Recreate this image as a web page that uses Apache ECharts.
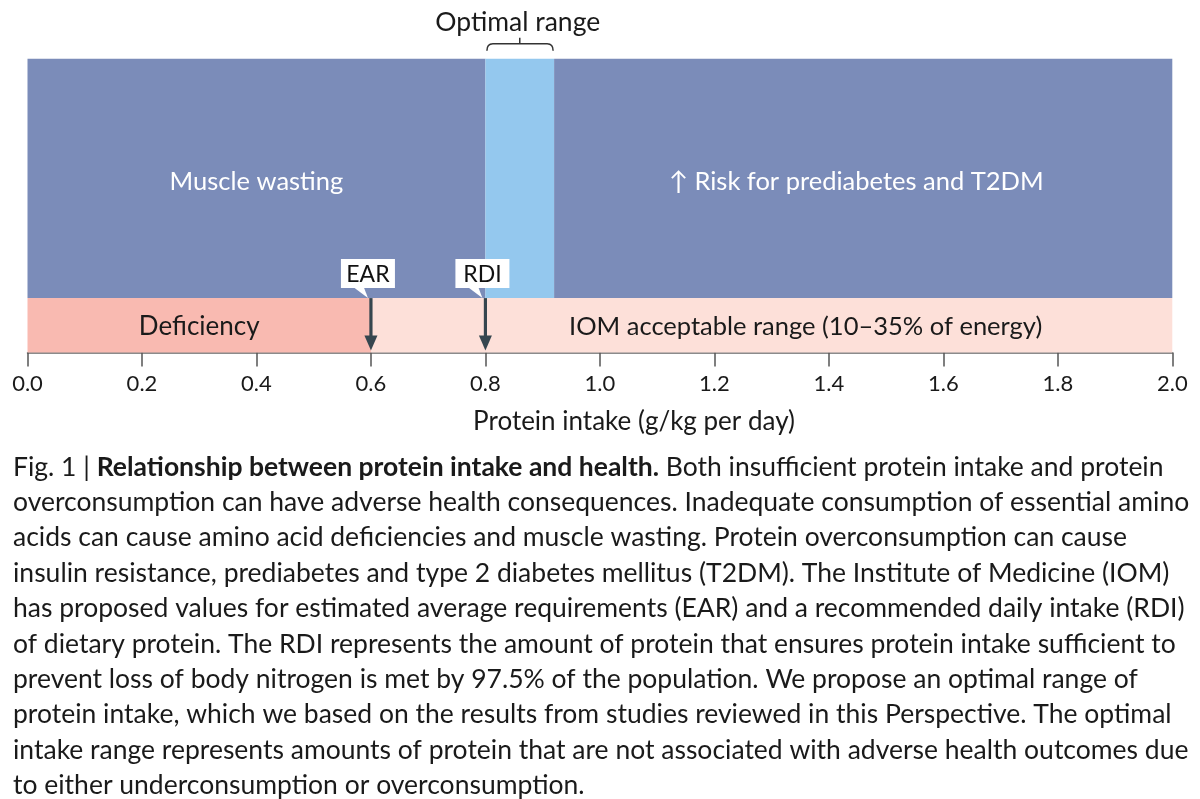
<!DOCTYPE html>
<html>
<head>
<meta charset="utf-8">
<script src="https://cdn.jsdelivr.net/npm/echarts@6/dist/echarts.min.js"></script>
<style>
html,body{margin:0;padding:0;background:#fff;}
#chart{width:1200px;height:799px;}
</style>
</head>
<body>
<div id="chart"></div>
<script>
// ---- data ----
const bandNames = ['Muscle wasting', 'Optimal range', '\u2191 Risk for prediabetes and T2DM', 'Deficiency', 'IOM acceptable range (10\u201335% of energy)'];
const bandStart = [0, 0.8, 0.92, 0, 0.6];
const bandEnd   = [0.8, 0.92, 2.0, 0.6, 2.0];
const bandLow   = [1, 1, 1, 0, 0];
const bandHigh  = [5.4, 5.4, 5.4, 1, 1];
const markerNames  = ['EAR', 'RDI'];
const markerValues = [0.6, 0.8];
const optimalRange = [0.8, 0.92];
const optimalLabel = 'Optimal range';
const axisName = 'Protein intake (g/kg per day)';
const captionLines = [
  'Both insufficient protein intake and protein',
  'overconsumption can have adverse health consequences. Inadequate consumption of essential amino',
  'acids can cause amino acid deficiencies and muscle wasting. Protein overconsumption can cause',
  'insulin resistance, prediabetes and type 2 diabetes mellitus (T2DM). The Institute of Medicine (IOM)',
  'has proposed values for estimated average requirements (EAR) and a recommended daily intake (RDI)',
  'of dietary protein. The RDI represents the amount of protein that ensures protein intake sufficient to',
  'prevent loss of body nitrogen is met by 97.5% of the population. We propose an optimal range of',
  'protein intake, which we based on the results from studies reviewed in this Perspective. The optimal',
  'intake range represents amounts of protein that are not associated with adverse health outcomes due',
  'to either underconsumption or overconsumption.'
];
const captionFig = 'Fig. 1 | ';
const captionTitle = 'Relationship between protein intake and health.';

// ---- styles ----
const FONT = 'Lato';
const bandColors = ['#7b8cb9', '#94c8ee', '#7b8cb9', '#f9bab1', '#fde0d9'];
const bandTextColors = ['#ffffff', '#ffffff', '#ffffff', '#1a1a1a', '#1a1a1a'];
const bandTextOffset = [0, 0, -7, 0, 34];
const bandTextSize = [25.5, 25, 25.5, 26, 25.5];
const arrowColor = '#36464f';
const CAP_SIZE = 26.5;
const CAP_Y0 = 467;
const CAP_STEP = 35.4;

const chart = echarts.init(document.getElementById('chart'), null, {renderer: 'canvas'});

const bandData = bandNames.map((n, i) => [bandStart[i], bandEnd[i], bandLow[i], bandHigh[i], n]);
const markerData = markerNames.map((n, i) => [markerValues[i], n]);

const graphics = [];
graphics.push({
  type: 'text', x: 13, y: CAP_Y0,
  style: {
    text: '{a|' + captionFig + '}{b|' + captionTitle + '}{a| ' + captionLines[0] + '}',
    verticalAlign: 'middle',
    rich: {
      a: {fontFamily: FONT, fontSize: CAP_SIZE, fill: '#1a1a1a'},
      b: {fontFamily: FONT, fontSize: CAP_SIZE, fontWeight: 'bold', fill: '#1a1a1a'}
    }
  }
});
for (let i = 1; i < captionLines.length; i++) {
  graphics.push({
    type: 'text', x: 13, y: CAP_Y0 + CAP_STEP * i,
    style: {text: captionLines[i], fontFamily: FONT, fontSize: CAP_SIZE, fill: '#1a1a1a', verticalAlign: 'middle'}
  });
}
graphics.push({
  type: 'text', x: 634, y: 422, z: 10,
  style: {text: axisName, fontFamily: FONT, fontSize: 26, fill: '#1a1a1a', align: 'center', verticalAlign: 'middle'}
});

const option = {
  animation: false,
  grid: {left: 27.5, right: 27.7, top: 58.7, bottom: 446.5, containLabel: false},
  xAxis: {
    type: 'value', min: 0, max: 2, interval: 0.2,
    axisLine: {show: true, lineStyle: {color: '#666', width: 1.5}},
    axisTick: {show: true, length: 14, lineStyle: {color: '#555', width: 1.5}},
    axisLabel: {margin: 20, fontFamily: FONT, fontSize: 22, color: '#1a1a1a', formatter: v => v.toFixed(1)},
    splitLine: {show: false}
  },
  yAxis: {type: 'value', min: 0, max: 5.4, show: false},
  graphic: graphics,
  series: [
    {
      type: 'custom', data: bandData, clip: false, z: 1,
      renderItem: function (params, api) {
        const i = params.dataIndex;
        const p0 = api.coord([api.value(0), api.value(2)]);
        const p1 = api.coord([api.value(1), api.value(3)]);
        const children = [{
          type: 'rect',
          shape: {x: p0[0], y: p1[1], width: p1[0] - p0[0], height: p0[1] - p1[1]},
          style: {fill: bandColors[i]}
        }];
        if (i !== 1) {
          children.push({
            type: 'text',
            x: (p0[0] + p1[0]) / 2 + bandTextOffset[i],
            y: (p0[1] + p1[1]) / 2 + (i < 3 ? 3 : 1),
            style: {text: bandNames[i], fontFamily: FONT, fontSize: bandTextSize[i], fill: bandTextColors[i], align: 'center', verticalAlign: 'middle'}
          });
        }
        return {type: 'group', children: children};
      }
    },
    {
      type: 'custom', data: [optimalRange], clip: false, z: 3,
      renderItem: function (params, api) {
        const a = api.coord([api.value(0), 5.4]);
        const b = api.coord([api.value(1), 5.4]);
        const top = a[1];
        const cx = (a[0] + b[0]) / 2;
        const x0 = a[0] + 1.5, x1 = b[0] - 1;
        const yB = top - 8, yH = top - 15;
        return {type: 'group', children: [
          {type: 'path', shape: {pathData:
            'M' + x0 + ' ' + yB + ' Q' + x0 + ' ' + yH + ' ' + (x0 + 6) + ' ' + yH +
            ' L' + (x1 - 6) + ' ' + yH + ' Q' + x1 + ' ' + yH + ' ' + x1 + ' ' + yB +
            ' M' + cx + ' ' + yH + ' L' + cx + ' ' + (top - 21)},
           style: {stroke: '#333', lineWidth: 1.5, fill: null}},
          {type: 'text', x: cx - 2, y: 22,
           style: {text: optimalLabel, fontFamily: FONT, fontSize: 26.5, fill: '#1a1a1a', align: 'center', verticalAlign: 'middle'}}
        ]};
      }
    },
    {
      type: 'custom', data: markerData, clip: false, z: 4,
      renderItem: function (params, api) {
        const pTop = api.coord([api.value(0), 1]);
        const pBot = api.coord([api.value(0), 0]);
        const x = pTop[0], yT = pTop[1], yB = pBot[1] - 2;
        const name = markerNames[params.dataIndex];
        return {type: 'group', children: [
          {type: 'line', shape: {x1: x, y1: yT, x2: x, y2: yB - 10}, style: {stroke: arrowColor, lineWidth: 3.2}},
          {type: 'polygon', shape: {points: [[x - 6.5, yB - 15], [x + 6.5, yB - 15], [x, yB]]}, style: {fill: arrowColor}},
          {type: 'rect', shape: {x: x - 30, y: yT - 39, width: 54, height: 29}, style: {fill: '#ffffff'}},
          {type: 'polygon', shape: {points: [[x - 17, yT - 10.5], [x - 7, yT - 10.5], [x - 3, yT]]}, style: {fill: '#ffffff'}},
          {type: 'text', x: x - 3, y: yT - 24, style: {text: name, fontFamily: FONT, fontSize: 23, fill: '#111', align: 'center', verticalAlign: 'middle'}}
        ]};
      }
    }
  ]
};
chart.setOption(option);
</script>
</body>
</html>
